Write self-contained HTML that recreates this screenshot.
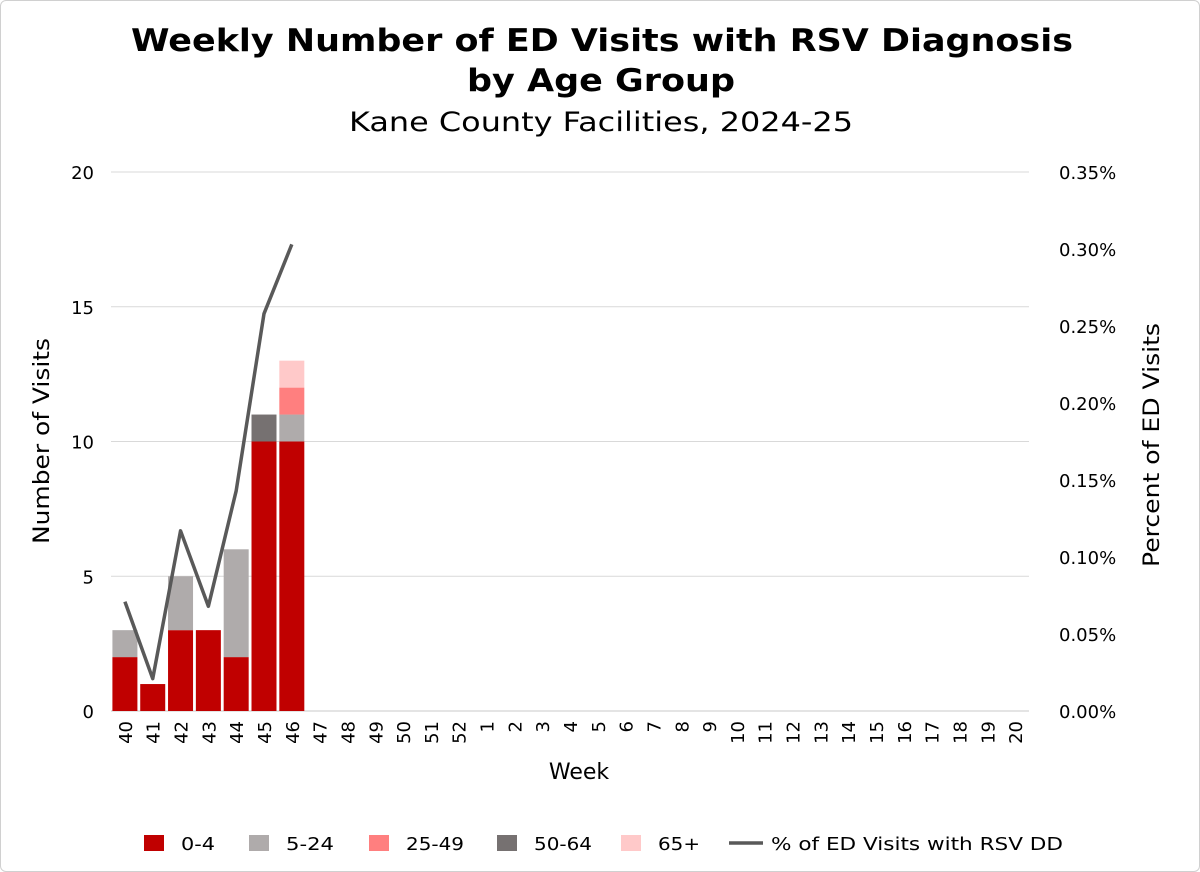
<!DOCTYPE html>
<html><head><meta charset="utf-8"><style>
html,body{margin:0;padding:0;background:#fff;}
#wrap{position:relative;width:1198px;height:870px;border:1px solid #d0d0d0;border-radius:6px;overflow:hidden;}
svg text{font-family:"DejaVu Sans","Liberation Sans",sans-serif;fill:#000;}
</style></head><body>
<div id="wrap">
<svg id="chart" width="1200" height="872">
<text x="130" y="50" font-size="31" font-weight="bold" textLength="942" lengthAdjust="spacingAndGlyphs">Weekly Number of ED Visits with RSV Diagnosis</text>
<text x="466" y="90" font-size="31" font-weight="bold" textLength="268" lengthAdjust="spacingAndGlyphs">by Age Group</text>
<text x="348" y="130" font-size="27" textLength="504" lengthAdjust="spacingAndGlyphs">Kane County Facilities, 2024-25</text>
<g id="grid"></g><g id="bars"></g><g id="line"></g><g id="axes"></g>
<text transform="translate(48,440) rotate(-90)" text-anchor="middle" font-size="22" textLength="206" lengthAdjust="spacingAndGlyphs">Number of Visits</text>
<text transform="translate(1158,444) rotate(-90)" text-anchor="middle" font-size="22" textLength="244" lengthAdjust="spacingAndGlyphs">Percent of ED Visits</text>
<text x="578" y="778" text-anchor="middle" font-size="22">Week</text>
<g id="legend"></g>
</svg></div>
<script>
const categories=["40","41","42","43","44","45","46","47","48","49","50","51","52","1","2","3","4","5","6","7","8","9","10","11","12","13","14","15","16","17","18","19","20"];
const s04=[2,1,3,3,2,10,10];
const s524=[1,0,2,0,4,0,1];
const s2549=[0,0,0,0,0,0,1];
const s5064=[0,0,0,0,0,1,0];
const s65=[0,0,0,0,0,0,1];
const pct=[0.071,0.021,0.117,0.068,0.143,0.258,0.303];
const yTicks=[0,5,10,15,20];
const y2Ticks=[0,0.05,0.10,0.15,0.20,0.25,0.30,0.35];
const NS="http://www.w3.org/2000/svg";
const L=110,R=1028,T=171,B=710;
const bw=(R-L)/categories.length;
const xc=i=>L+bw*(i+0.5);
const y=v=>B-(v/20)*(B-T);
const y2=v=>B-(v/0.35)*(B-T);
function mk(t,a,p){const e=document.createElementNS(NS,t);for(const k in a)e.setAttribute(k,a[k]);p.appendChild(e);return e;}
const grid=document.getElementById('grid'),axes=document.getElementById('axes'),bars=document.getElementById('bars'),line=document.getElementById('line'),leg=document.getElementById('legend');
yTicks.forEach(v=>{const g=mk('line',{x1:L,x2:R,y1:y(v),y2:y(v),stroke:v===0?'#c8c8c8':'#d9d9d9','stroke-width':1},grid);

const t=mk('text',{x:93,y:y(v)+7,'text-anchor':'end','font-size':18},axes);t.textContent=v;
});
y2Ticks.forEach(v=>{const t=mk('text',{x:1058,y:y2(v)+7,'font-size':18},axes);t.textContent=v.toFixed(2)+'%';
});
categories.forEach((c,i)=>{const t=mk('text',{transform:`translate(${xc(i)+7},720) rotate(-90)`,'text-anchor':'end','font-size':18},axes);t.textContent=c;
});
const series=[[s04,'#c00000','0-4'],[s524,'#afabab','5-24'],[s2549,'#ff7f7f','25-49'],[s5064,'#767171','50-64'],[s65,'#ffc9c9','65+']];
const base=categories.map(()=>0);
series.forEach(([d,col,n])=>{d.forEach((v,i)=>{if(!v)return;const r=mk('rect',{x:xc(i)-12.5,width:25,y:y(base[i]+v),height:y(base[i])-y(base[i]+v),fill:col},bars);
base[i]+=v;});});
const p=mk('polyline',{points:pct.map((v,i)=>xc(i)+','+y2(v)).join(' '),fill:'none',stroke:'#595959','stroke-width':3.5,'stroke-linejoin':'round'},line);

const lx=[143,248,368,496,620];
const lw=[34,48,58,58,42];
series.forEach(([d,col,n],k)=>{const g=mk('g',{},leg);
mk('rect',{x:lx[k],y:834,width:20,height:16,fill:col},g);const t=mk('text',{x:lx[k]+37,y:849,'font-size':18,textLength:lw[k],lengthAdjust:'spacingAndGlyphs'},g);t.textContent=n;});
const g=mk('g',{},leg);
mk('line',{x1:728,x2:762,y1:842,y2:842,stroke:'#595959','stroke-width':3.5},g);
const t=mk('text',{x:770,y:849,'font-size':18,textLength:292,lengthAdjust:'spacingAndGlyphs'},g);t.textContent='% of ED Visits with RSV DD';
</script></body></html>
